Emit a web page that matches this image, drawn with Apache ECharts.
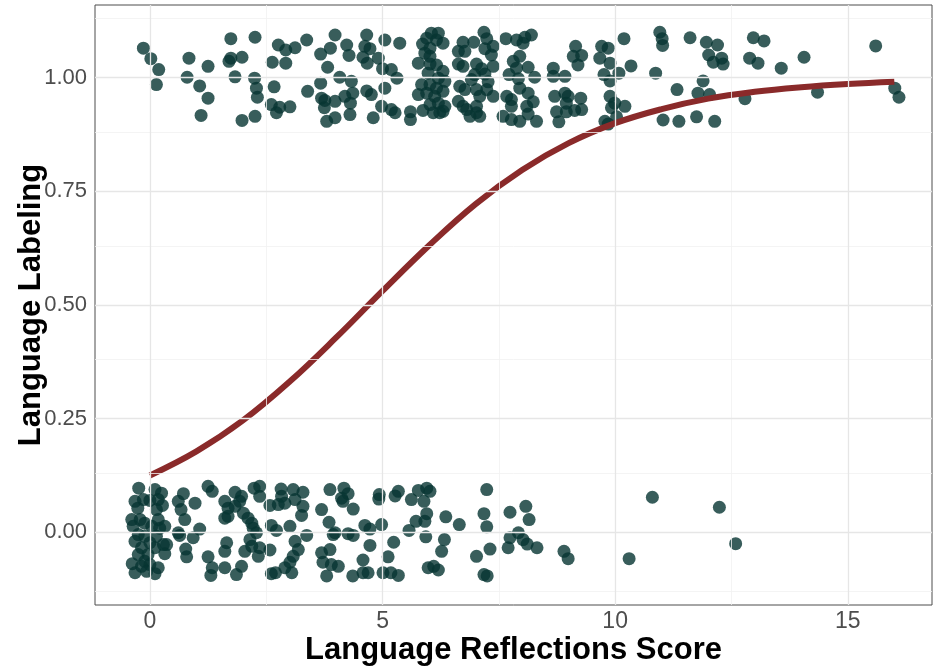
<!DOCTYPE html>
<html><head><meta charset="utf-8">
<script src="https://cdn.jsdelivr.net/npm/echarts@6/dist/echarts.min.js"></script>
<style>html,body{margin:0;padding:0;background:#fff}#c{width:933px;height:667px}</style>
</head><body><div id="c"></div>
<script>
const xTicks = [0, 5, 10, 15];
const xMinor = [2.5, 7.5, 12.5];
const yTicks = [0, 0.25, 0.5, 0.75, 1];
const yMinor = [-0.125, 0.125, 0.375, 0.625, 0.875, 1.125];
const xTitle = 'Language Reflections Score';
const yTitle = 'Language Labeling';

// fitted curve
const curveX = [0,1,2,3,4,5,6,7,8,9,10,11,12,13,14,15,16];
const curveY = [0.125,0.178,0.246,0.331,0.428,0.531,0.631,0.722,0.797,0.856,0.900,0.931,0.954,0.969,0.979,0.986,0.991];

// jittered observations with Language Labeling = 1
const upperPoints = [
[-0.14,1.065],[0.02,1.042],[0.19,1.018],[0.14,0.985],[0.84,1.043],[0.80,1.001],[1.25,1.025],[1.07,0.982],[1.25,0.955],[1.10,0.917],
[1.74,1.086],[2.26,1.089],[1.74,1.043],[1.70,1.036],[1.98,1.045],[1.83,1.002],[2.25,0.999],[2.29,0.977],[2.31,0.957],[2.26,0.915],
[1.98,0.906],[2.76,1.072],[2.92,1.061],[3.12,1.066],[3.37,1.083],[2.63,1.034],[2.92,1.032],[2.67,0.980],[2.61,0.941],[2.79,0.935],
[2.72,0.923],[3.01,0.936],[3.39,0.970],[3.67,1.052],[3.88,1.065],[3.98,1.094],[3.82,1.023],[3.67,0.988],[3.69,0.955],[3.76,0.950],
[3.75,0.934],[3.80,0.904],
[4.23,1.072],[4.28,1.049],[4.08,1.001],[4.33,0.992],[4.19,0.959],[4.31,0.944],[3.98,0.948],[4.30,0.919],[3.98,0.912],[4.36,0.966],
[4.66,1.094],[4.62,1.069],[4.73,1.064],[4.58,1.045],[4.67,1.032],[4.91,1.043],[5.05,1.083],[5.37,1.076],[5.00,1.020],[5.19,1.018],
[5.31,0.999],[5.05,0.977],[4.66,0.971],[4.76,0.963],[4.98,0.937],[5.19,0.930],[5.27,0.923],[4.80,0.912],[5.60,0.925],[5.60,0.908],
[6.05,1.098],[6.20,1.098],[6.16,1.083],[5.95,1.087],[6.30,1.076],[5.86,1.074],[6.02,1.065],[5.91,1.054],[6.02,1.047],[5.77,1.032],
[6.02,1.030],[6.16,1.028],[6.30,1.014],[5.98,1.010],[6.20,0.999],[6.34,0.992],[5.84,0.985],[6.02,0.985],[6.16,0.977],[5.77,0.963],
[5.95,0.966],[6.12,0.959],[6.30,0.970],[6.02,0.941],[6.20,0.944],[5.87,0.928],[6.09,0.923],[6.34,0.937],[6.30,0.926],[6.23,0.923],
[6.73,1.078],[6.96,1.078],[7.18,1.100],[7.24,1.086],[7.20,1.064],[7.38,1.069],[6.63,1.058],[6.77,1.058],[7.34,1.050],[6.63,1.030],
[6.73,1.025],[7.02,1.030],[7.13,1.020],[7.38,1.025],[6.98,1.007],[7.20,1.008],[7.27,0.991],[6.91,0.996],[6.66,0.981],[6.77,0.974],
[7.02,0.974],[7.24,0.974],[7.09,0.959],[7.38,0.959],[6.63,0.948],[6.73,0.937],[6.81,0.930],[7.02,0.937],[6.88,0.915],[7.02,0.923],
[7.09,0.915],
[7.65,1.086],[7.88,1.083],[8.06,1.089],[8.20,1.094],[8.02,1.076],[7.81,1.036],[7.95,1.047],[7.88,1.021],[8.13,1.023],[7.72,1.007],
[7.92,0.998],[8.27,1.001],[7.67,0.959],[7.77,0.952],[7.95,0.977],[8.13,0.966],[8.24,0.947],[7.77,0.937],[7.59,0.915],[7.77,0.908],
[7.95,0.904],[8.13,0.920],[8.31,0.904],[8.10,0.937],
[9.15,1.069],[9.10,1.047],[9.28,1.049],[9.20,1.028],[8.67,1.021],[8.67,1.003],[8.92,1.003],[9.71,1.069],[9.85,1.065],[9.67,1.043],
[9.89,1.032],[9.76,1.007],[9.89,0.993],[10.08,1.010],[10.19,1.086],[10.34,1.026],[8.70,0.959],[8.92,0.966],[8.99,0.959],[9.26,0.955],
[8.95,0.944],[8.74,0.925],[8.95,0.925],[9.13,0.928],[9.28,0.930],[8.79,0.903],[9.89,0.959],[9.99,0.944],[9.92,0.934],[10.21,0.937],
[10.03,0.914],[9.78,0.904],[9.85,0.898],[10.96,1.100],[11.01,1.086],[11.02,1.071],[11.61,1.088],[11.96,1.078],[12.20,1.072],[12.01,1.050],
[12.11,1.034],[12.29,1.043],[12.32,1.030],[10.87,1.010],[11.89,0.993],[11.33,0.974],[11.78,0.966],[12.03,0.963],[12.79,0.954],[11.03,0.907],
[11.37,0.904],[11.75,0.914],[12.14,0.904],
[12.97,1.088],[13.20,1.081],[12.89,1.043],[13.07,1.032],[13.57,1.021],[14.06,1.045],[14.35,0.968],[15.60,1.070],[16.01,0.977],[16.10,0.957]
];

// jittered observations with Language Labeling = 0
const lowerPoints = [
[-0.24,0.097],[0.11,0.094],[0.25,0.086],[-0.32,0.068],[-0.14,0.072],[0.00,0.070],[0.18,0.072],[-0.26,0.053],[0.27,0.059],[0.14,0.050],
[-0.39,0.028],[-0.21,0.028],[-0.11,0.020],[0.18,0.028],[-0.36,0.013],[0.04,0.013],[0.21,0.009],[0.32,0.013],[-0.25,-0.005],[-0.11,-0.009],
[0.14,-0.009],[-0.32,-0.020],[0.00,-0.023],[0.29,-0.027],[-0.18,-0.034],[0.11,-0.034],[0.36,-0.027],[-0.25,-0.049],[-0.04,-0.049],[0.32,-0.047],
[-0.11,-0.064],[-0.38,-0.069],[0.00,-0.071],[-0.18,-0.075],[0.18,-0.078],[-0.32,-0.089],[0.11,-0.091],[-0.07,-0.086],
[0.72,0.085],[0.61,0.068],[0.97,0.064],[0.67,0.050],[0.75,0.028],[1.07,0.007],[0.61,-0.001],[0.64,-0.007],[0.93,-0.012],[0.77,-0.037],
[0.79,-0.054],
[1.25,0.101],[1.34,0.090],[1.83,0.088],[1.97,0.079],[1.61,0.068],[1.93,0.068],[1.68,0.053],[1.83,0.057],[2.01,0.042],[1.61,0.031],
[1.68,0.035],[2.11,0.031],[2.19,0.020],[2.22,0.009],[2.29,-0.001],[1.65,-0.023],[1.61,-0.042],[2.15,-0.016],[2.19,-0.031],[2.04,-0.042],
[2.36,-0.034],[2.33,-0.053],[1.25,-0.054],[1.34,-0.078],[1.31,-0.095],[1.61,-0.078],[1.86,-0.093],[1.97,-0.075],[2.24,0.097],[2.36,0.101],
[2.36,0.079],
[2.82,0.095],[3.08,0.094],[3.29,0.088],[2.83,0.079],[2.58,0.059],[2.76,0.061],[2.90,0.064],[3.12,0.072],[3.29,0.057],[3.26,0.037],
[2.61,0.015],[2.72,0.004],[3.01,0.013],[3.37,-0.007],[3.12,-0.020],[2.58,-0.039],[3.19,-0.038],[3.08,-0.053],[3.01,-0.066],[2.90,-0.078],
[2.61,-0.091],[2.70,-0.089],[3.05,-0.089],
[3.87,0.094],[3.69,0.050],[3.85,0.022],[3.94,-0.005],[3.69,-0.045],[3.87,-0.038],[3.72,-0.066],[3.90,-0.071],[3.80,-0.096],
[4.17,0.097],[4.12,0.075],[4.26,0.085],[4.15,0.068],[4.37,0.051],[3.98,-0.001],[4.26,-0.003],[4.37,-0.007],[4.05,-0.075],[4.36,-0.096],
[4.58,-0.061],[4.58,-0.089],[4.69,-0.089],[4.73,-0.029],[4.62,0.015],[4.73,0.007],[4.98,0.017],[4.93,0.083],[4.92,0.073],[5.27,0.080],
[5.34,0.090],[5.24,-0.022],[5.12,-0.054],[5.01,-0.089],[5.18,-0.089],[5.34,-0.095],[5.62,0.072],[5.77,0.092],[5.95,0.097],[6.02,0.090],
[5.89,0.068],[5.95,0.041],[5.72,0.024],[5.91,0.024],[5.57,0.004],[5.93,-0.010],[5.98,-0.078],[6.10,-0.075],[6.20,-0.083],[6.36,0.034],
[6.65,0.017],[6.33,-0.016],[6.27,-0.042],[7.24,0.094],[7.18,0.041],[7.24,0.012],[7.31,-0.037],[7.02,-0.053],[7.18,-0.093],[7.25,-0.096],
[7.74,0.044],[8.08,0.057],[8.15,0.028],[7.74,-0.012],[7.92,-0.001],[8.02,-0.016],[8.11,-0.026],[7.70,-0.034],[8.32,-0.034],
[8.90,-0.042],[8.99,-0.058],[10.80,0.077],[10.30,-0.058],[12.24,0.055],[12.59,-0.025]
];

const FONT = '"Liberation Sans", Arial, Helvetica, sans-serif';
const majorStyle = {color: '#e6e6e6', width: 1.3, type: 'solid'};
const minorStyle = {color: '#f1f1f1', width: 0.8, type: 'solid'};
const pointStyle = {color: '#063532', opacity: 0.8};

const gridLines = []
  .concat(xMinor.map(v => ({xAxis: v, lineStyle: minorStyle})))
  .concat(yMinor.map(v => ({yAxis: v, lineStyle: minorStyle})))
  .concat(xTicks.map(v => ({xAxis: v, lineStyle: majorStyle})))
  .concat(yTicks.map(v => ({yAxis: v, lineStyle: majorStyle})));

const chart = echarts.init(document.getElementById('c'), null, {renderer: 'canvas'});
chart.setOption({
  animation: false,
  backgroundColor: '#ffffff',
  grid: {left: 95, right: 1, top: 5, bottom: 62, show: true, borderColor: '#4d4d4d', borderWidth: 1,
    backgroundColor: 'transparent', containLabel: false, outerBoundsMode: 'none'},
  xAxis: {
    type: 'value', min: -1.18, max: 16.81,
    name: xTitle, nameLocation: 'middle', nameGap: 30, nameMoveOverlap: false,
    nameTextStyle: {fontFamily: FONT, fontWeight: 'bold', fontSize: 31, color: '#000'},
    axisLine: {show: false},
    axisTick: {show: true, customValues: xTicks, length: 4, lineStyle: {color: '#333', width: 1}},
    axisLabel: {customValues: xTicks, fontFamily: FONT, fontSize: 23, color: '#4d4d4d', margin: 5},
    splitLine: {show: false}
  },
  yAxis: {
    type: 'value', min: -0.16, max: 1.16,
    name: yTitle, nameLocation: 'middle', nameGap: 48, nameMoveOverlap: false,
    nameTextStyle: {fontFamily: FONT, fontWeight: 'bold', fontSize: 31, color: '#000'},
    axisLine: {show: false},
    axisTick: {show: true, customValues: yTicks, length: 5, lineStyle: {color: '#333', width: 1}},
    axisLabel: {customValues: yTicks, fontFamily: FONT, fontSize: 22, color: '#4d4d4d', margin: 8,
      formatter: v => Number(v).toFixed(2)},
    splitLine: {show: false}
  },
  series: [
    {type: 'scatter', data: [], z: 1, silent: true,
      markLine: {silent: true, symbol: ['none', 'none'], label: {show: false}, animation: false, data: gridLines}},
    {type: 'scatter', data: lowerPoints, symbolSize: 13, itemStyle: pointStyle, z: 2, silent: true},
    {type: 'scatter', data: upperPoints, symbolSize: 13, itemStyle: pointStyle, z: 2, silent: true},
    {type: 'line', data: curveX.map((x, i) => [x, curveY[i]]), smooth: 0.4,
      showSymbol: false, symbol: 'none', lineStyle: {color: '#8a2a2a', width: 6, cap: 'butt'}, z: 3, silent: true}
  ]
});
</script>
</body></html>
